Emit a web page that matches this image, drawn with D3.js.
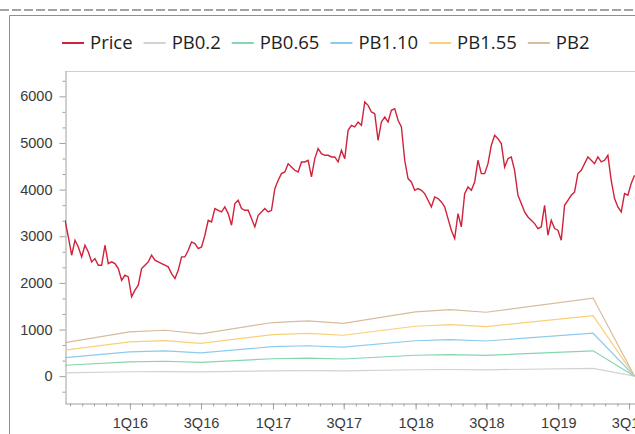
<!DOCTYPE html>
<html>
<head>
<meta charset="utf-8">
<script src="https://cdn.jsdelivr.net/npm/d3@7"></script>
<style>
  body { margin: 0; background: #fff; }
  svg { display: block; font-family: "Open Sans", sans-serif; }
</style>
</head>
<body>
<script>
// series names and colours (legend order)
var seriesNames = ["Price", "PB0.2", "PB0.65", "PB1.10", "PB1.55", "PB2"];
var seriesColors = ["#d0223a", "#d2d2d2", "#86d5ae", "#8ccbee", "#f9cf78", "#d8bc9c"];

// daily price, sampled evenly between these two dates
var priceStart = "2015-07-19",
    priceEnd = "2019-07-15";
var priceValues = [
  3343, 2986, 2593, 2914, 2771, 2557, 2807, 2664, 2450, 2521, 2379, 2379, 2807, 2414,
  2450, 2414, 2307, 2057, 2164, 2129, 1700, 1843, 1950, 2307, 2379, 2450, 2593, 2486,
  2450, 2414, 2379, 2343, 2200, 2093, 2271, 2557, 2557, 2700, 2879, 2843, 2736,
  2771, 3021, 3343, 3307, 3593, 3557, 3521, 3629, 3486, 3236, 3700, 3771, 3593, 3557,
  3557, 3379, 3200, 3450, 3521, 3593, 3521, 3557, 4021, 4200, 4343, 4379, 4557, 4486,
  4414, 4379, 4593, 4593, 4629, 4271, 4664, 4879, 4771, 4736, 4736,
  4700, 4700, 4593, 4843, 4664, 5271, 5379, 5343, 5450, 5379, 5879, 5807, 5664, 5629,
  5057, 5450, 5557, 5450, 5700, 5736, 5486, 5343, 4629, 4236, 4164, 3986, 4021, 3986,
  3914, 3771, 3629, 3843, 3807, 3736, 3629, 3379,
  3129, 2950, 3486, 3200, 3914, 4057, 3986, 4164, 4629, 4343, 4343, 4557, 4950, 5164,
  5093, 4986, 4486, 4664, 4700, 4414, 3879, 3700, 3521, 3414, 3343, 3271, 3164, 3200,
  3664, 3021,
  3343, 3164, 3129, 2914, 3664, 3771, 3879, 3950, 4343, 4414, 4557, 4700, 4629, 4557,
  4700, 4593, 4629, 4736, 4200, 3807, 3629, 3521, 3914, 3879, 4129, 4307
];

// PB bands, at report dates
var pbDates = ["2015-07-19", "2015-12-31", "2016-03-31", "2016-06-30", "2016-12-31", "2017-03-31",
               "2017-06-30", "2017-12-31", "2018-03-31", "2018-06-30", "2019-03-31", "2019-07-15"];
var pb02  = [72, 95, 98, 91, 115, 119, 113, 138, 143, 137, 167, 0];
var pb065 = [234, 308, 320, 295, 374, 385, 368, 449, 463, 445, 544, 0];
var pb110 = [396, 521, 541, 499, 633, 652, 623, 759, 784, 754, 921, 0];
var pb155 = [558, 735, 763, 704, 891, 919, 877, 1070, 1105, 1062, 1297, 0];
var pb2   = [720, 948, 984, 908, 1150, 1186, 1132, 1380, 1426, 1370, 1674, 0];

// axis ticks
var yTickValues = [0, 1000, 2000, 3000, 4000, 5000, 6000];
var xTickDates = ["2016-01-01", "2016-07-01", "2017-01-01", "2017-07-01", "2018-01-01",
                  "2018-07-01", "2019-01-01", "2019-07-01"];
var xTickLabels = ["1Q16", "3Q16", "1Q17", "3Q17", "1Q18", "3Q18", "1Q19", "3Q19"];

var width = 635, height = 434;
var plotLeft = 65, plotRight = 640, plotTop = 71, plotBottom = 403.5;

var parse = d3.timeParse("%Y-%m-%d");

var svg = d3.select("body").append("svg")
    .attr("width", width)
    .attr("height", height);

// outer frame
svg.append("line")
    .attr("x1", 0).attr("x2", width)
    .attr("y1", 10).attr("y2", 10)
    .attr("stroke", "#a3a3a3")
    .attr("stroke-width", 2)
    .attr("stroke-dasharray", "9,3");
svg.append("path")
    .attr("d", "M9.5," + height + "V15.5H" + width)
    .attr("fill", "none")
    .attr("stroke", "#8f8f8f");

var x = d3.scaleTime()
    .domain([parse("2015-07-19"), parse("2019-07-29")])
    .range([plotLeft, plotRight]);

var y = d3.scaleLinear()
    .domain([-586, 6543])
    .range([plotBottom, plotTop]);

// plot border top
svg.append("line")
    .attr("x1", plotLeft).attr("x2", plotRight)
    .attr("y1", plotTop + 0.5).attr("y2", plotTop + 0.5)
    .attr("stroke", "#cfcfcf");

svg.append("clipPath").attr("id", "clip")
  .append("rect")
    .attr("x", plotLeft).attr("y", plotTop)
    .attr("width", plotRight - plotLeft).attr("height", plotBottom - plotTop);

// y axis
var yMinor = d3.range(-1, 20).filter(function (i) { return i % 3 != 0; })
    .map(function (i) { return i * 1000 / 3; });

svg.append("g")
    .attr("transform", "translate(" + (plotLeft + 0.5) + ",0)")
    .call(d3.axisLeft(y).tickValues(yTickValues).tickFormat(d3.format("d"))
        .tickSize(6).tickSizeOuter(0).tickPadding(7));
svg.append("g")
    .attr("class", "minor")
    .attr("transform", "translate(" + (plotLeft + 0.5) + ",0)")
    .call(d3.axisLeft(y).tickValues(yMinor).tickSize(3).tickFormat(""));

// x axis
svg.append("g")
    .attr("transform", "translate(0," + plotBottom + ")")
    .call(d3.axisBottom(x)
        .tickValues(xTickDates.map(parse))
        .tickFormat(function (d, i) { return xTickLabels[i]; })
        .tickSize(6).tickSizeOuter(0).tickPadding(8));
svg.append("g")
    .attr("class", "minor")
    .attr("transform", "translate(0," + plotBottom + ")")
    .call(d3.axisBottom(x).ticks(d3.timeMonth.every(1)).tickSize(3).tickFormat(""));

svg.selectAll(".minor .domain").remove();
svg.selectAll(".domain").attr("stroke", "#a0a0a0");
svg.selectAll(".tick line").attr("stroke", "#a0a0a0");
svg.selectAll(".tick text")
    .attr("fill", "#3a3a3a")
    .style("font-size", "14.5px");

// lines
var line = d3.line()
    .x(function (d) { return x(d.date); })
    .y(function (d) { return y(d.value); });

var pbSeries = [pb02, pb065, pb110, pb155, pb2];
var plot = svg.append("g").attr("clip-path", "url(#clip)");

pbSeries.forEach(function (vals, s) {
  var pts = vals.map(function (v, i) { return { date: parse(pbDates[i]), value: v }; });
  plot.append("path")
      .datum(pts)
      .attr("fill", "none")
      .attr("stroke", seriesColors[s + 1])
      .attr("stroke-width", 1.2)
      .attr("d", line);
});

var t0 = parse(priceStart).getTime(),
    t1 = parse(priceEnd).getTime();
var pricePts = priceValues.map(function (v, i) {
  return { date: new Date(t0 + (t1 - t0) * i / (priceValues.length - 1)), value: v };
});
plot.append("path")
    .datum(pricePts)
    .attr("fill", "none")
    .attr("stroke", seriesColors[0])
    .attr("stroke-width", 1.4)
    .attr("d", line);

// legend
var legend = svg.append("g").attr("transform", "translate(0,43)");
var cx = 62;
seriesNames.forEach(function (name, i) {
  legend.append("line")
      .attr("x1", cx).attr("x2", cx + 22)
      .attr("stroke", seriesColors[i])
      .attr("stroke-width", 2);
  var t = legend.append("text")
      .attr("x", cx + 28)
      .attr("dy", "0.35em")
      .attr("fill", "#1e1e1e")
      .style("font-size", "18.5px")
      .text(name);
  cx = cx + 28 + t.node().getComputedTextLength() + 11;
});
</script>
</body>
</html>
